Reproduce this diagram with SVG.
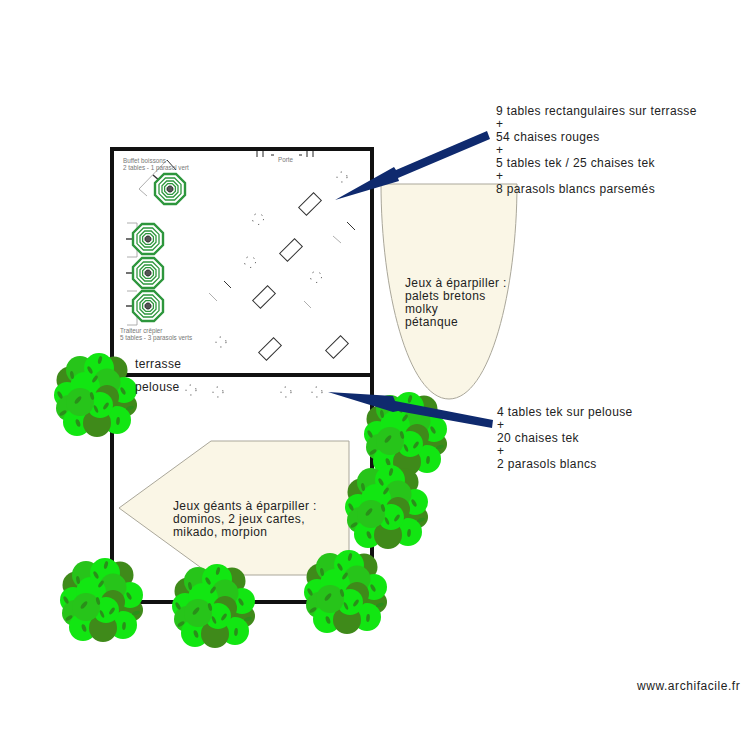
<svg xmlns="http://www.w3.org/2000/svg" width="750" height="750" viewBox="0 0 750 750">
<style>
text{font-family:"Liberation Sans",Arial,sans-serif;fill:#222}
.t{font-size:12px;letter-spacing:.37px}
.s{font-size:6.3px;fill:#777}
.wall{fill:none;stroke:#111;stroke-width:4}
.zone{fill:#faf6e6;stroke:#aaa79a;stroke-width:1}
.arrow{fill:#0f2a6e}
.b{fill:#12e612}.l{fill:#27c41a}.d{fill:#3f8a1a}.k{fill:#2a8f1a}
.tb{fill:none;stroke:#333;stroke-width:1}
.lt{fill:none;stroke:#999;stroke-width:.8}
.dot{fill:none;stroke:#444;stroke-width:1;stroke-dasharray:1.2 6}
.oct{fill:#fff;stroke:#2d963c;stroke-width:2.4}
.rg{fill:none;stroke:#2d963c;stroke-width:1.3}
</style>
<defs>
<g id="tree">
<circle class="l" cx="0" cy="0" r="34"/>
<circle class="d" cx="18" cy="-25" r="13.5"/><circle class="d" cx="-26" cy="-15" r="13.5"/>
<circle class="d" cx="30" cy="10" r="11"/>
<circle class="b" cx="28" cy="-5" r="13"/>
<circle class="b" cx="-29" cy="0" r="13"/><circle class="l" cx="-27" cy="13" r="13"/>
<circle class="l" cx="-16" cy="-25" r="14"/><circle class="b" cx="3" cy="-27" r="15"/>
<circle class="b" cx="-19" cy="27" r="14"/><circle class="b" cx="21" cy="25" r="14"/>
<circle class="d" cx="1" cy="28" r="14"/>
<circle class="l" cx="11" cy="-13" r="13.5"/><circle class="b" cx="-11" cy="-8" r="15"/>
<circle class="d" cx="11" cy="2" r="12"/>
<circle class="b" cx="4" cy="10" r="13"/><circle class="l" cx="-16" cy="7" r="14"/>
<g class="k">
<ellipse cx="4" cy="-35" rx="1.8" ry="4" transform="rotate(15 4 -35)"/>
<ellipse cx="-6" cy="-25" rx="1.8" ry="4" transform="rotate(-30 -6 -25)"/>
<ellipse cx="-1" cy="-16" rx="1.8" ry="4" transform="rotate(35 -1 -16)"/>
<ellipse cx="-24" cy="-20" rx="1.8" ry="4" transform="rotate(-10 -24 -20)"/>
<ellipse cx="27" cy="-4" rx="1.8" ry="4" transform="rotate(-30 27 -4)"/>
<ellipse cx="34" cy="13" rx="1.8" ry="4" transform="rotate(70 34 13)"/>
<ellipse cx="-36" cy="0" rx="1.8" ry="4" transform="rotate(-30 -36 0)"/>
<ellipse cx="-18" cy="5" rx="2" ry="4.5" transform="rotate(40 -18 5)"/>
<ellipse cx="-4" cy="1" rx="1.8" ry="4" transform="rotate(-15 -4 1)"/>
<ellipse cx="10" cy="11" rx="1.8" ry="4" transform="rotate(35 10 11)"/>
<ellipse cx="0" cy="14" rx="1.5" ry="4" transform="rotate(-25 0 14)"/>
<ellipse cx="-33" cy="18" rx="1.8" ry="4" transform="rotate(55 -33 18)"/>
<ellipse cx="-18" cy="28" rx="2" ry="4" transform="rotate(-20 -18 28)"/>
<ellipse cx="22" cy="26" rx="1.8" ry="4" transform="rotate(5 22 26)"/>
</g>
</g>
<g id="para">
<polygon class="oct" points="-6,-15 6,-15 15,-6 15,6 6,15 -6,15 -15,6 -15,-6"/>
<polygon class="rg" points="-4.6,-11 4.6,-11 11,-4.6 11,4.6 4.6,11 -4.6,11 -11,4.6 -11,-4.6"/>
<polygon class="rg" points="-3.3,-8 3.3,-8 8,-3.3 8,3.3 3.3,8 -3.3,8 -8,3.3 -8,-3.3"/>
<polygon class="rg" points="-2.2,-5.4 2.2,-5.4 5.4,-2.2 5.4,2.2 2.2,5.4 -2.2,5.4 -5.4,2.2 -5.4,-2.2"/>
<polygon points="-1.2,-3 1.2,-3 3,-1.2 3,1.2 1.2,3 -1.2,3 -3,1.2 -3,-1.2" fill="#555" stroke="#222" stroke-width=".8"/>
</g>
<rect id="tbl" class="tb" x="-10.5" y="-5.5" width="21" height="11" transform="rotate(-45)"/>
</defs>
<g id="walls">
<path class="wall" d="M112 149H372V602H112ZM112 375H372"/>
</g>
<g id="door" fill="none" stroke="#222" stroke-width="1">
<path d="M257 151v6M263 151v6M271 155h3M299 155h3M307 151v6M313 151v6"/>
</g>
<g id="zone-jeux"><path class="zone" d="M381 184H517C517 290 490 399 449 399C408 399 381 290 381 184Z"/></g>
<g id="zone-geants"><polygon class="zone" points="349,441 211,441 119,508 211,575 349,575"/></g>
<g id="furniture">
<path class="tb" d="M167 160L176 170"/>
<path class="lt" d="M139 189L167 160M139 189L147 196"/>
<path d="M153 175L160 181" stroke="#333" stroke-width="1.4"/>
<path class="lt" d="M127 223H137V232M137 247V257M127 257H137M137 291H127M127 325H137V316"/>
<path d="M126 239H134M126 273H134M126 306H134" stroke="#444" stroke-width="1.4"/>
<use href="#para" x="170" y="189"/><use href="#para" x="148" y="239"/><use href="#para" x="148" y="273"/><use href="#para" x="148" y="306"/>
<use href="#tbl" x="310" y="204"/><use href="#tbl" x="291" y="250"/><use href="#tbl" x="264" y="297"/><use href="#tbl" x="270" y="349"/><use href="#tbl" x="337" y="347"/>
<path class="tb" d="M347 222L355 230M224 281L231 288"/>
<path class="lt" d="M333 236L341 243M304 301L311 308M209 293L217 301"/>
<circle class="dot" cx="342" cy="177" r="5"/><circle class="dot" cx="258" cy="219" r="5.5"/><circle class="dot" cx="250" cy="262" r="5.5"/><circle class="dot" cx="316" cy="277" r="5.5"/><circle class="dot" cx="221" cy="342" r="5"/><circle class="dot" cx="191" cy="390" r="5"/><circle class="dot" cx="218" cy="392" r="5"/><circle class="dot" cx="286" cy="392" r="5"/><circle class="dot" cx="317" cy="392" r="5"/>
</g>
<g id="trees">
<use href="#tree" x="96" y="395"/><use href="#tree" x="406" y="434"/><use href="#tree" x="387" y="507"/><use href="#tree" x="102" y="600"/><use href="#tree" x="214" y="606"/><use href="#tree" x="346" y="592"/>
</g>
<g id="connectors">
<polygon class="arrow" points="335,200 394,167 396,170 487,131 490,139 398,178 399,181"/>
<polygon class="arrow" points="328,392 393,396 395,401 493,420 492,428 398,411 393,412"/>
</g>
<g id="labels">
<text class="s" x="123" y="163">Buffet boissons</text>
<text class="s" x="123" y="170">2 tables - 1 parasol vert</text>
<text class="s" x="278" y="162">Porte</text>
<text class="s" x="120" y="333">Traiteur crêpier</text>
<text class="s" x="120" y="340">5 tables - 3 parasols verts</text>
<text class="t" x="135" y="368">terrasse</text>
<text class="t" x="135" y="391">pelouse</text>
<text class="t" x="496" y="115">9 tables rectangulaires sur terrasse</text>
<text class="t" x="496" y="128">+</text>
<text class="t" x="496" y="141">54 chaises rouges</text>
<text class="t" x="496" y="154">+</text>
<text class="t" x="496" y="167">5 tables tek / 25 chaises tek</text>
<text class="t" x="496" y="180">+</text>
<text class="t" x="496" y="193">8 parasols blancs parsemés</text>
<text class="t" x="405" y="286.5">Jeux à éparpiller :</text>
<text class="t" x="405" y="299.5">palets bretons</text>
<text class="t" x="405" y="312.5">molky</text>
<text class="t" x="405" y="325.5">pétanque</text>
<text class="t" x="497" y="416">4 tables tek sur pelouse</text>
<text class="t" x="497" y="429">+</text>
<text class="t" x="497" y="442">20 chaises tek</text>
<text class="t" x="497" y="455">+</text>
<text class="t" x="497" y="468">2 parasols blancs</text>
<text class="t" x="173" y="510">Jeux géants à éparpiller :</text>
<text class="t" x="173" y="523">dominos, 2 jeux cartes,</text>
<text class="t" x="173" y="536">mikado, morpion</text>
<text class="t" x="637" y="690" style="letter-spacing:.55px">www.archifacile.fr</text>
</g>
</svg>
